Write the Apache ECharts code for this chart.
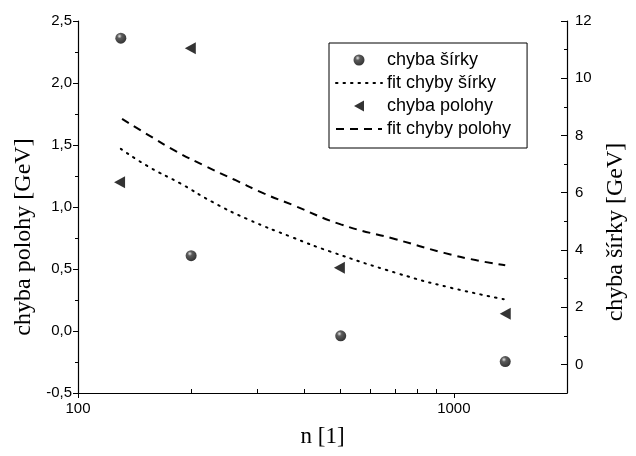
<!DOCTYPE html>
<html>
<head>
<meta charset="utf-8">
<script src="https://cdn.jsdelivr.net/npm/echarts@6/dist/echarts.min.js"></script>
<style>
  html, body { margin: 0; padding: 0; background: #fff; }
  #main { width: 636px; height: 456px; }
</style>
</head>
<body>
<div id="main"></div>
<script>
// measured points (n, value)
var sirkaN = [130, 200, 500, 1370]
var sirka = [11.4, 3.8, 1.0, 0.1]          // right axis
var polohaN = [129, 199, 496, 1370]
var poloha = [1.2, 2.28, 0.51, 0.14]        // left axis

// fit curves
var fitSirkaN = [130, 154, 188, 229, 282, 370, 465, 713, 980, 1370]
var fitSirka = [7.53, 6.91, 6.31, 5.66, 5.08, 4.45, 3.96, 3.17, 2.68, 2.27]
var fitPolohaN = [131, 154, 182, 218, 261, 312, 370, 500, 700, 942, 1150, 1370]
var fitPoloha = [1.71, 1.58, 1.45, 1.33, 1.22, 1.11, 1.02, 0.86, 0.74, 0.63, 0.57, 0.53]

var xMinorTicks = [200, 300, 400, 500, 600, 700, 800, 900]
var rightLabels = [0, 2, 4, 6, 8, 10, 12]
var rightMinor = [-1, 1, 3, 5, 7, 9, 11]

function pairs(xs, ys) {
  return xs.map(function (x, i) { return [x, ys[i]] })
}

var chartDom = document.getElementById('main')
var myChart = echarts.init(chartDom)
var option

var sphere = {
  type: 'radial', x: 0.38, y: 0.32, r: 0.7,
  colorStops: [
    { offset: 0, color: '#dddddd' },
    { offset: 0.3, color: '#333333' },
    { offset: 1, color: '#000000' }
  ]
}
var leftTriangle = 'path://M10,0L0,5.5L10,11Z'
var noMark = { color: 'rgba(0,0,0,0)', borderWidth: 0 }

var sansLabel = { color: '#000', fontFamily: 'Liberation Sans', fontSize: 15 }

option = {
  animation: false,
  backgroundColor: '#fff',
  grid: { left: 78, right: 57, top: 21, bottom: 63 },
  legend: {
    orient: 'vertical',
    left: 329,
    top: 43,
    padding: [8, 16, 10, 6],
    itemGap: 5,
    itemWidth: 46,
    itemHeight: 11,
    borderColor: '#000',
    borderWidth: 1,
    borderRadius: 0,
    textStyle: { color: '#000', fontFamily: 'Liberation Sans', fontSize: 18 },
    data: ['chyba šírky', 'fit chyby šírky', 'chyba polohy', 'fit chyby polohy']
  },
  xAxis: [
    {
      type: 'log',
      logBase: 10,
      min: 100,
      max: 2000,
      name: 'n [1]',
      nameLocation: 'middle',
      nameGap: 32,
      nameTextStyle: { color: '#000', fontFamily: 'Liberation Serif', fontSize: 23 },
      axisLine: { onZero: false, lineStyle: { color: '#000', width: 1.2 } },
      axisTick: { inside: false, length: 5, lineStyle: { color: '#000' } },
      axisLabel: Object.assign({
        margin: 8,
        showMaxLabel: false,
        formatter: function (v) { return String(Math.round(v)) }
      }, sansLabel),
      splitLine: { show: false }
    },
    {
      type: 'value',
      position: 'bottom',
      min: 2,
      max: Math.log10(2000),
      axisLine: { show: false, onZero: false },
      axisLabel: { show: false },
      axisTick: {
        inside: true,
        length: 4,
        lineStyle: { color: '#000' },
        customValues: xMinorTicks.map(function (v) { return Math.log10(v) })
      },
      splitLine: { show: false }
    }
  ],
  yAxis: [
    {
      type: 'value',
      position: 'left',
      min: -0.5,
      max: 2.5,
      interval: 0.5,
      name: 'chyba polohy [GeV]',
      nameLocation: 'middle',
      nameGap: 39,
      nameRotate: 90,
      nameTextStyle: { color: '#000', fontFamily: 'Liberation Serif', fontSize: 24, padding: [0, 60, 0, 0] },
      axisLine: { show: true, onZero: false, lineStyle: { color: '#000', width: 1.2 } },
      axisTick: { show: true, inside: false, length: 5, lineStyle: { color: '#000' } },
      minorTick: { show: true, splitNumber: 2, length: 3, lineStyle: { color: '#000' } },
      axisLabel: Object.assign({
        margin: 6,
        formatter: function (v) { return v.toFixed(1).replace('.', ',') }
      }, sansLabel),
      splitLine: { show: false }
    },
    {
      type: 'value',
      position: 'right',
      min: -1,
      max: 12,
      interval: 1,
      name: 'chyba šírky [GeV]',
      nameLocation: 'middle',
      nameGap: 37,
      nameRotate: 90,
      nameTextStyle: { color: '#000', fontFamily: 'Liberation Serif', fontSize: 24, padding: [0, 50, 0, 0] },
      axisLine: { show: true, onZero: false, lineStyle: { color: '#000', width: 1.2 } },
      axisTick: { show: true, inside: true, length: 6, lineStyle: { color: '#000' }, customValues: rightLabels },
      axisLabel: Object.assign({ margin: 8, customValues: rightLabels }, sansLabel),
      splitLine: { show: false }
    },
    {
      type: 'value',
      position: 'right',
      min: -1,
      max: 12,
      interval: 1,
      axisLine: { show: false, onZero: false },
      axisLabel: { show: false },
      axisTick: { show: true, inside: true, length: 3, lineStyle: { color: '#000' }, customValues: rightMinor },
      splitLine: { show: false }
    }
  ],
  series: [
    {
      name: 'chyba šírky',
      type: 'scatter',
      yAxisIndex: 1,
      symbol: 'circle',
      symbolSize: 11,
      itemStyle: { color: sphere },
      data: pairs(sirkaN, sirka),
      z: 5
    },
    {
      name: 'fit chyby šírky',
      type: 'line',
      yAxisIndex: 1,
      smooth: true,
      symbol: 'none',
      itemStyle: noMark,
      lineStyle: { color: '#000', width: 2, type: [1.5, 6], cap: 'round' },
      data: pairs(fitSirkaN, fitSirka)
    },
    {
      name: 'chyba polohy',
      type: 'scatter',
      yAxisIndex: 0,
      symbol: leftTriangle,
      symbolSize: [11, 12],
      itemStyle: { color: '#000' },
      data: pairs(polohaN, poloha),
      z: 5
    },
    {
      name: 'fit chyby polohy',
      type: 'line',
      yAxisIndex: 0,
      smooth: true,
      symbol: 'none',
      itemStyle: noMark,
      lineStyle: { color: '#000', width: 2, type: [8, 6] },
      data: pairs(fitPolohaN, fitPoloha)
    }
  ]
}

option && myChart.setOption(option)
</script>
</body>
</html>
